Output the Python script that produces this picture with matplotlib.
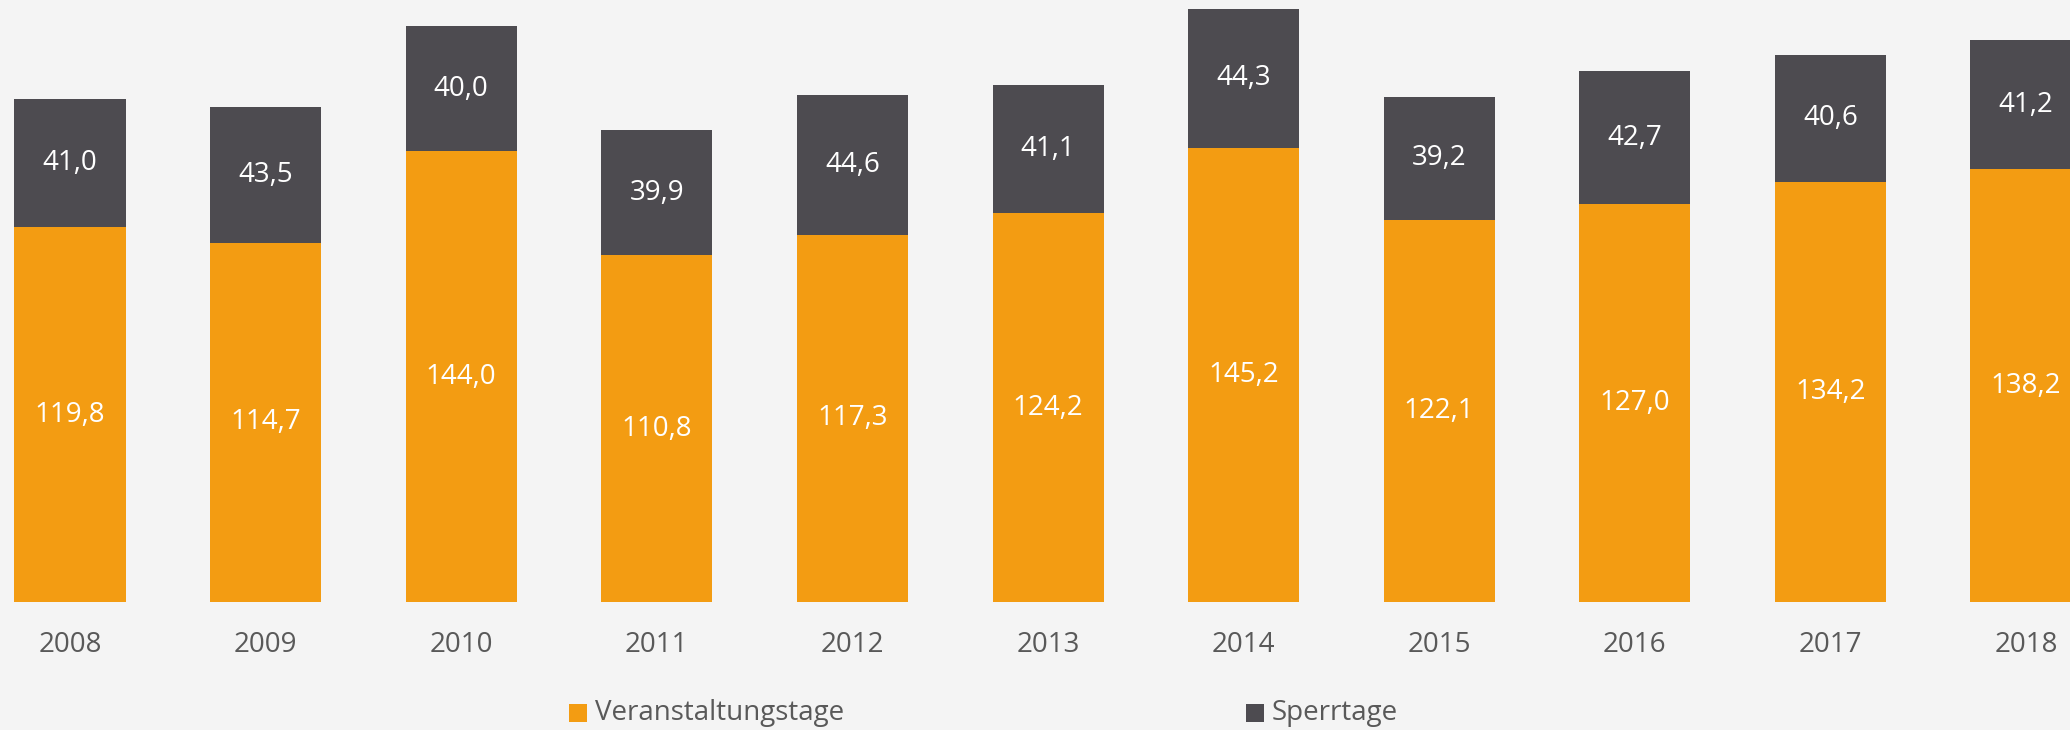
import matplotlib
matplotlib.use("Agg")
import matplotlib.pyplot as plt
from matplotlib.patches import Rectangle

years = ["2008", "2009", "2010", "2011", "2012", "2013", "2014", "2015", "2016", "2017", "2018"]
veranstaltungstage = [119.8, 114.7, 144.0, 110.8, 117.3, 124.2, 145.2, 122.1, 127.0, 134.2, 138.2]
sperrtage = [41.0, 43.5, 40.0, 39.9, 44.6, 41.1, 44.3, 39.2, 42.7, 40.6, 41.2]
series_names = ["Veranstaltungstage", "Sperrtage"]

ORANGE = "#F39C12"
DARK = "#4D4B50"
BG = "#F4F4F4"
TXT = "#595959"
FONT = "Open Sans"

W, H = 2070, 730
fig = plt.figure(figsize=(W / 100, H / 100), dpi=100, facecolor=BG)

# axes: bar baseline at y=602px from top, spacing 195.6px, first centre at 70px
bottom_px = 602
ax = fig.add_axes([0, (H - bottom_px) / H, 1, bottom_px / H])
ax.set_facecolor("none")
spacing = 195.6
first = 70
ax.set_xlim(-first / spacing, (W - first) / spacing)
px_per_unit = 3.13
ax.set_ylim(0, bottom_px / px_per_unit)

x = list(range(len(years)))
width = 111 / spacing
ax.bar(x, veranstaltungstage, width=width, color=ORANGE, linewidth=0)
ax.bar(x, sperrtage, width=width, bottom=veranstaltungstage, color=DARK, linewidth=0)

def fmt(v):
    return f"{v:.1f}".replace(".", ",")

for xi, v, s in zip(x, veranstaltungstage, sperrtage):
    ax.text(xi, v / 2, fmt(v), ha="center", va="center", color="white",
            fontsize=20, family=FONT)
    ax.text(xi, v + s / 2, fmt(s), ha="center", va="center", color="white",
            fontsize=20, family=FONT)
    ax.annotate(years[xi], (xi, 0), xytext=(0, -31), textcoords="offset points",
                ha="center", va="center", color=TXT, fontsize=20, family=FONT,
                annotation_clip=False)

ax.set_xticks([])
ax.set_yticks([])
for sp in ax.spines.values():
    sp.set_visible(False)

# legend
leg_y = 713
for sx, tx, col, name in [(569, 595, ORANGE, series_names[0]), (1246, 1272, DARK, series_names[1])]:
    fig.add_artist(Rectangle((sx / W, (H - leg_y - 9) / H), 18 / W, 18 / H,
                             transform=fig.transFigure, color=col, lw=0))
    fig.text(tx / W, (H - leg_y) / H, name, ha="left", va="center",
             color=TXT, fontsize=20, family=FONT)

fig.savefig("out.png", dpi=100, facecolor=BG)
